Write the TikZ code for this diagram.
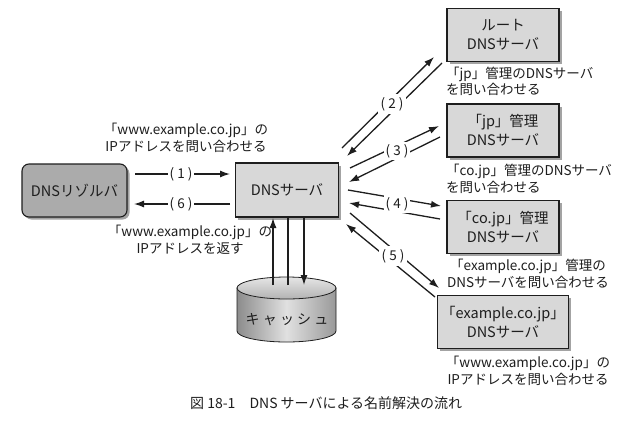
\documentclass[tikz,border=0pt]{standalone}
\usepackage{fontspec}
\setmainfont{Noto Sans CJK JP}
\usetikzlibrary{arrows.meta,shadows}
\definecolor{boxgray}{HTML}{D8D8D8}
\definecolor{resgray}{HTML}{ABABAB}
\definecolor{ink}{HTML}{1E1E1E}
\begin{document}
\begin{tikzpicture}[x=1pt,y=-1pt,
  every node/.style={text=ink},
  txt/.style={font=\fontsize{13.5}{16.5}\selectfont, inner sep=0pt},
  box/.style={draw=ink, line width=1.1pt, fill=boxgray, minimum width=112pt, minimum height=53pt,
    align=center, font=\fontsize{14.5}{19}\selectfont,
    drop shadow={shadow xshift=2.5pt, shadow yshift=-2.5pt, fill=black!45, opacity=0.8}},
  arr/.style={draw=ink, line width=1.3pt, -{Latex[length=10pt,width=7pt]}},
  ln/.style={draw=ink, line width=1.3pt},
  lbl/.style={fill=white, font=\fontsize{13.5}{15}\selectfont, inner sep=1.5pt}]
\useasboundingbox (0,0) rectangle (640,421);
\fill[white] (0,0) rectangle (640,421);

% nodes
\node[box, rounded corners=7pt, fill=resgray, minimum width=105pt] (res) at (74.5,190.5) {DNSリゾルバ};
\node[box, minimum width=103pt, minimum height=54pt] (srv) at (287,190) {DNSサーバ};
\node[box] (root) at (503,35) {ルート\\DNSサーバ};
\node[box] (jp) at (503,130.5) {「jp」管理\\DNSサーバ};
\node[box] (cojp) at (503,227) {「co.jp」管理\\DNSサーバ};
\node[box] (ex) at (503,322) {「example.co.jp」\\DNSサーバ};

% cache cylinder
\shade[left color=black!45, right color=black!40, middle color=black!12, draw=ink, line width=0.8pt]
  (237,288) -- (237,331) arc[start angle=180, end angle=360, x radius=49.5pt, y radius=11pt]
  -- (336,288) -- cycle;
\shade[top color=black!10, bottom color=black!30, draw=ink, line width=0.8pt]
  (286.5,288) ellipse[x radius=49.5pt, y radius=11pt];
\node[txt, font=\fontsize{14}{16}\selectfont] (cache) at (287,320) {キ ャ ッ シ ュ};

% resolver <-> server
\coordinate (a1s) at (135,174); \coordinate (a1e) at (230,174);
\coordinate (a6s) at (230,204); \coordinate (a6e) at (134,204);
\draw[arr] (a1s) -- (a1e);
\draw[arr] (a6s) -- (a6e);
\node[lbl] (l1) at (181,174) {( 1 )};
\node[lbl] (l6) at (181,204) {( 6 )};
\node[txt, align=center] (q1) at (186,138) {「www.example.co.jp」の\\IPアドレスを問い合わせる};
\node[txt, align=center] (q6) at (190,240) {「www.example.co.jp」の\\IPアドレスを返す};

% server <-> cache
\coordinate (cu) at (273,285); \coordinate (su) at (273,218);
\coordinate (cm) at (288,285); \coordinate (sm) at (288,218);
\coordinate (sd) at (304,218); \coordinate (cd) at (304,285);
\draw[arr] (cu) -- (su);
\draw[ln] (cm) -- (sm);
\draw[arr] (sd) -- (cd);

% (2)
\coordinate (o2s) at (342,148); \coordinate (o2e) at (434,57);
\coordinate (b2s) at (442,63); \coordinate (b2e) at (347,156);
\draw[arr] (o2s) -- (o2e);
\draw[arr] (b2s) -- (b2e);
\node[lbl, inner sep=3pt] (l2) at (392,104) {( 2 )};
% (3)
\coordinate (o3s) at (350,168); \coordinate (o3e) at (439,126);
\coordinate (b3s) at (440,137); \coordinate (b3e) at (349,182);
\draw[arr] (o3s) -- (o3e);
\draw[arr] (b3s) -- (b3e);
\node[lbl, inner sep=2pt] (l3) at (397,151) {( 3 )};
% (4)
\coordinate (o4s) at (348,190); \coordinate (o4e) at (441,206);
\coordinate (b4s) at (440,219); \coordinate (b4e) at (349,203);
\draw[arr] (o4s) -- (o4e);
\draw[arr] (b4s) -- (b4e);
\node[lbl, inner sep=2pt] (l4) at (397,204) {( 4 )};
% (5)
\coordinate (o5s) at (350,213); \coordinate (o5e) at (439,288);
\coordinate (b5s) at (435,297); \coordinate (b5e) at (346,224);
\draw[arr] (o5s) -- (o5e);
\draw[arr] (b5s) -- (b5e);
\node[lbl, inner sep=3pt] (l5) at (393,256) {( 5 )};

% right labels
\node[txt, align=left, anchor=west] (t2) at (446,81.5) {「jp」管理のDNSサーバ\\を問い合わせる};
\node[txt, align=left, anchor=west] (t3) at (446,179) {「co.jp」管理のDNSサーバ\\を問い合わせる};
\node[txt, align=center] (t4) at (528,274) {「example.co.jp」管理の\\DNSサーバを問い合わせる};
\node[txt, align=center] (t5) at (528,371) {「www.example.co.jp」の\\IPアドレスを問い合わせる};

% caption
\node[txt, anchor=west, font=\fontsize{14}{16}\selectfont] (cap) at (190,403) {図 18-1\quad DNS サーバによる名前解決の流れ};
\end{tikzpicture}
\end{document}
